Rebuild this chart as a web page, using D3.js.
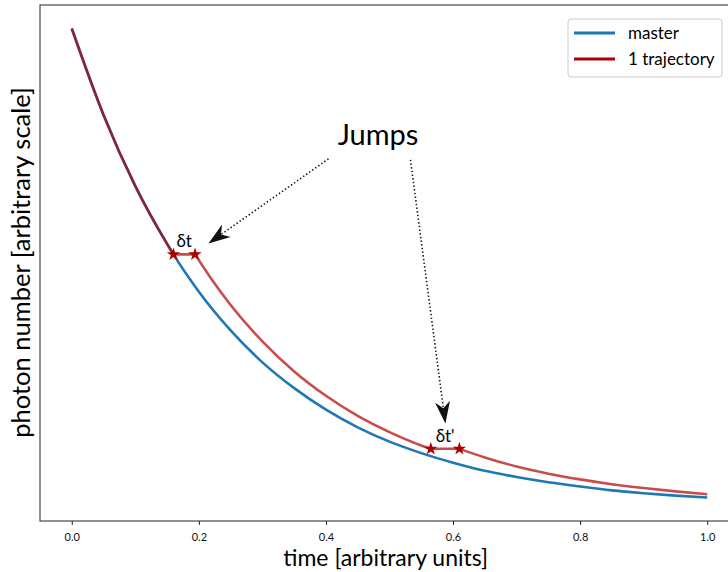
<!DOCTYPE html>
<html>
<head>
<meta charset="utf-8">
<script src="https://cdn.jsdelivr.net/npm/d3@7"></script>
<style>
  body { margin: 0; background: #fff; }
  svg { display: block; font-family: Lato, "Open Sans", sans-serif; }
</style>
</head>
<body>
<div id="chart"></div>
<script>
// master curve
var tMaster = [0, 0.05, 0.10, 0.15, 0.16, 0.20, 0.25, 0.30, 0.35, 0.40, 0.45, 0.50,
               0.55, 0.60, 0.65, 0.70, 0.75, 0.80, 0.85, 0.90, 0.95, 1.00];
var master = [1.000, 0.819, 0.670, 0.549, 0.527, 0.449, 0.368, 0.301, 0.247, 0.202, 0.165, 0.135,
              0.111, 0.091, 0.074, 0.061, 0.050, 0.041, 0.033, 0.027, 0.022, 0.018];

// one trajectory with two jumps
var tTraj = [0, 0.05, 0.10, 0.15, 0.16, 0.194, 0.22, 0.25, 0.30, 0.35, 0.40, 0.45, 0.50,
             0.55, 0.565, 0.61, 0.65, 0.70, 0.75, 0.80, 0.85, 0.90, 0.95, 1.00];
var traj = [1.000, 0.819, 0.670, 0.549, 0.527, 0.527, 0.475, 0.421, 0.345, 0.282, 0.231, 0.189, 0.155,
            0.127, 0.120, 0.120, 0.102, 0.083, 0.068, 0.056, 0.046, 0.038, 0.031, 0.025];

// jumps
var jumpStart = [0.16, 0.565];
var jumpEnd = [0.194, 0.61];
var jumpLevel = [0.527, 0.120];
var jumpLabels = ["δt", "δt'"];

var xTicks = [0, 0.2, 0.4, 0.6, 0.8, 1.0];
var legendLabels = ["master", "1 trajectory"];

var svgWidth = 728;
var svgHeight = 572;

var margin = { top: 5, right: -11, bottom: 51, left: 40 };
var width = svgWidth - margin.left - margin.right;
var height = svgHeight - margin.top - margin.bottom;

var svg = d3.select("#chart")
  .append("svg")
  .attr("width", svgWidth)
  .attr("height", svgHeight);

var chartGroup = svg.append("g")
  .attr("transform", `translate(${margin.left}, ${margin.top})`);

// matplotlib-like 5% margins
var yMin = d3.min(master), yMax = d3.max(master);
var yPad = (yMax - yMin) * 0.05;

var x = d3.scaleLinear().domain([-0.05, 1.05]).range([0, width]);
var y = d3.scaleLinear().domain([yMin - yPad, yMax + yPad]).range([height, 0]);

// frame
chartGroup.append("rect")
  .attr("width", width)
  .attr("height", height)
  .attr("fill", "none")
  .attr("stroke", "#222")
  .attr("stroke-width", 1);

// x axis
var xAxis = chartGroup.append("g")
  .attr("transform", `translate(0, ${height})`)
  .call(d3.axisBottom(x).tickValues(xTicks).tickFormat(d3.format(".1f")).tickSize(4).tickPadding(8));
xAxis.select(".domain").remove();
xAxis.selectAll("line").attr("stroke", "#222");
xAxis.selectAll("text").attr("font-size", 11).attr("fill", "#111").attr("font-family", "Lato, sans-serif");

// axis labels
chartGroup.append("text")
  .attr("x", x(0.494))
  .attr("y", height + 45)
  .attr("text-anchor", "middle")
  .attr("font-size", 23)
  .text("time [arbitrary units]");

chartGroup.append("text")
  .attr("transform", `translate(-10, ${y(0.51)}) rotate(-90)`)
  .attr("text-anchor", "middle")
  .attr("font-size", 25.5)
  .text("photon number [arbitrary scale]");

var line = d3.line()
  .x(d => x(d[0]))
  .y(d => y(d[1]))
  .curve(d3.curveMonotoneX);

// master
chartGroup.append("path")
  .datum(d3.zip(tMaster, master))
  .attr("d", line)
  .attr("fill", "none")
  .attr("stroke", "#1f77b4")
  .attr("stroke-width", 2.6);

// trajectory: split at the jump corners so each piece is smooth on its own
var cuts = jumpStart.concat(jumpEnd);
var trajPts = d3.zip(tTraj, traj);
var pieces = [[]];
trajPts.forEach(function(p, i) {
  pieces[pieces.length - 1].push(p);
  if (i > 0 && i < trajPts.length - 1 && cuts.indexOf(p[0]) >= 0) pieces.push([p]);
});
chartGroup.append("path")
  .attr("d", pieces.map(line).join(""))
  .attr("fill", "none")
  .attr("stroke", "#b20000")
  .attr("stroke-opacity", 0.7)
  .attr("stroke-width", 2.6)
  .attr("stroke-linejoin", "round");

// stars at the jump ends
var stars = [];
jumpStart.forEach(function(t, i) {
  stars.push([t, jumpLevel[i]]);
  stars.push([jumpEnd[i], jumpLevel[i]]);
});
chartGroup.selectAll(".star")
  .data(stars)
  .enter()
  .append("path")
  .attr("class", "star")
  .attr("transform", d => `translate(${x(d[0])}, ${y(d[1])})`)
  .attr("d", d3.symbol().type(d3.symbolStar).size(55))
  .attr("fill", "#a80000");

// jump labels
chartGroup.selectAll(".jumplabel")
  .data(jumpLabels)
  .enter()
  .append("text")
  .attr("x", (d, i) => x((jumpStart[i] + jumpEnd[i]) / 2))
  .attr("y", (d, i) => y(jumpLevel[i]) - 7)
  .attr("text-anchor", "middle")
  .attr("font-size", 17)
  .text(d => d);

// "Jumps" annotation
chartGroup.append("text")
  .attr("x", x(0.482))
  .attr("y", y(0.767) + 5)
  .attr("text-anchor", "middle")
  .attr("font-size", 29)
  .text("Jumps");

var arrowFrom = [[0.404, 0.727], [0.533, 0.725]];
var arrowTo = [[0.215, 0.550], [0.588, 0.173]];

arrowFrom.forEach(function(a, i) {
  var x0 = x(a[0]), y0 = y(a[1]);
  var x1 = x(arrowTo[i][0]), y1 = y(arrowTo[i][1]);
  var ang = Math.atan2(y1 - y0, x1 - x0);
  var headLen = 22, headW = 7.5;
  // dotted shaft stops inside the head
  chartGroup.append("line")
    .attr("x1", x0).attr("y1", y0)
    .attr("x2", x1 - Math.cos(ang) * 16).attr("y2", y1 - Math.sin(ang) * 16)
    .attr("stroke", "#111")
    .attr("stroke-width", 1.6)
    .attr("stroke-dasharray", "1.4,2.3");
  // concave arrow head
  var head = "M0,0 L" + (-headLen) + "," + (-headW) + " L" + (-headLen * 0.7) + ",0 L" + (-headLen) + "," + headW + " Z";
  chartGroup.append("path")
    .attr("d", head)
    .attr("transform", `translate(${x1}, ${y1}) rotate(${ang * 180 / Math.PI})`)
    .attr("fill", "#111");
});

// legend
var legend = svg.append("g").attr("transform", "translate(568, 19)");
legend.append("rect")
  .attr("width", 154)
  .attr("height", 58)
  .attr("rx", 3)
  .attr("fill", "#fff")
  .attr("stroke", "#ccc")
  .attr("stroke-width", 1);

var legendColors = ["#1f77b4", "#b20000"];
legendLabels.forEach(function(lbl, i) {
  var ly = 14 + i * 26;
  legend.append("line")
    .attr("x1", 6).attr("x2", 47)
    .attr("y1", ly).attr("y2", ly)
    .attr("stroke", legendColors[i])
    .attr("stroke-width", 3);
  legend.append("text")
    .attr("x", 60)
    .attr("y", ly + 5.5)
    .attr("font-size", 17)
    .text(lbl);
});
</script>
</body>
</html>
